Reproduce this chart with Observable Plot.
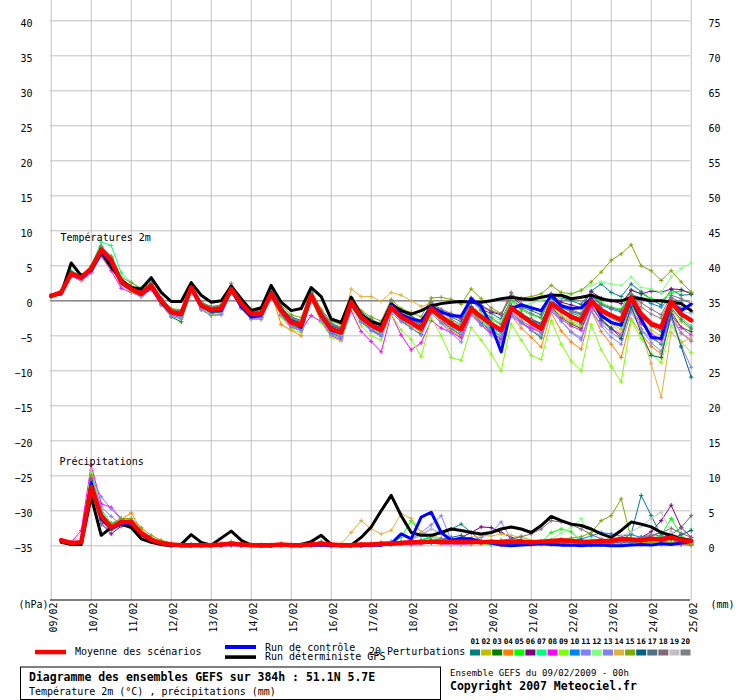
<!DOCTYPE html>
<html>
<head>
<meta charset="utf-8">
<script src="https://cdn.jsdelivr.net/npm/d3@7"></script>
<script src="https://cdn.jsdelivr.net/npm/@observablehq/plot@0.6"></script>
<style>
  html, body { margin: 0; padding: 0; background: #fff; }
  #chart { width: 740px; height: 700px; position: relative; }
  #chart svg { display: block; }
</style>
</head>
<body>
<div id="chart"></div>
<script>
// ---------------- DATA ----------------
const dateLabels = ["09/02","10/02","11/02","12/02","13/02","14/02","15/02","16/02","17/02","18/02","19/02","20/02","21/02","22/02","23/02","24/02","25/02"];
const tempTicks = [40,35,30,25,20,15,10,5,0,-5,-10,-15,-20,-25,-30,-35];
const PRECIP_ZERO = -35;   // 0 mm on the right axis sits at -35 °C on the left axis
const STEP_H = 6;          // 6-hourly output, 0..384h

const pertNames = ["01","02","03","04","05","06","07","08","09","10","11","12","13","14","15","16","17","18","19","20"];
const pertColors = ["#008080","#c0c000","#008000","#ff8000","#00ff00","#800080","#00ff80","#ff00ff","#80ff00","#0080ff","#8080ff","#80ff80","#8080f0","#e0b040","#80a800","#006080","#507080","#806878","#c0c0c0","#808080"];

// 2 m temperature (°C), 65 values (0h .. 384h)
const meanT = [0.7,1.2,3.9,3.3, 4.6,7.3,5.8,2.7, 1.7,1.0,2.2,0.0, -1.6,-1.9,1.9,-0.7, -1.3,-1.1,1.7,-0.4, -1.9,-1.9,1.0,-1.4, -3.1,-3.5,0.8,-2.1, -4.0,-4.5,-0.2,-2.3, -3.5,-4.2,-0.9,-2.3, -3.1,-4.0,-1.1,-2.3, -3.3,-4.1,-1.1,-2.3, -3.3,-4.2,-1.0,-2.1, -3.1,-4.0,-0.4,-1.4, -2.3,-2.8,0.0,-1.4, -2.1,-2.7,0.5,-1.9, -3.3,-3.8,-0.1,-1.9, -2.8];
const detT = [0.7,1.0,5.4,3.6, 4.3,6.9,4.8,3.0, 1.9,1.7,3.3,1.2, -0.1,-0.1,2.6,0.8, -0.2,0.0,2.1,0.3, -1.4,-1.0,2.2,-0.2, -1.4,-1.1,1.9,0.6, -2.6,-3.1,0.5,-2.0, -3.0,-3.4,-0.5,-1.4, -1.9,-1.4,-0.7,-0.4, -0.2,-0.1,-0.2,-0.2, 0.0,0.3,0.5,0.3, 0.2,0.5,0.8,0.8, 0.3,0.5,0.8,0.3, 0.0,0.0,0.5,0.3, 0.0,0.0,-0.2,-0.4, -1.4];
const ctrlT = [0.7,1.1,4.0,3.3, 4.4,7.0,5.5,2.6, 1.6,0.9,2.0,-0.2, -1.7,-2.0,2.0,-0.6, -1.5,-1.4,1.6,-0.8, -2.3,-2.1,1.2,-1.2, -2.9,-3.8,0.6,-2.0, -4.2,-4.6,-0.4,-2.5, -3.5,-4.0,-0.6,-2.0, -2.6,-2.9,-0.9,-1.6, -2.1,-2.2,0.3,-0.8, -3.5,-7.3,-1.1,-0.6, -1.0,-1.4,0.8,-0.7, -1.1,-1.0,0.3,-2.1, -3.1,-3.5,0.3,-2.6, -5.2,-5.4,-0.2,-1.4, -0.5];

const p01T = [0.8,1.3,4.0,3.5, 4.8,7.6,6.2,3.0, 2.0,1.3,2.5,0.3, -1.2,-1.5,2.3,-0.2, -0.9,-0.6,2.1,0.0, -1.3,-1.2,1.5,-0.9, -2.3,-2.8,1.3,-1.4, -3.2,-3.8,0.3,-1.6, -2.6,-3.4,-0.2,-1.5, -2.2,-2.9,-0.3,-1.4, -2.3,-3.0,0.0,-1.2, -1.8,-2.6,0.2,-0.9, -1.4,-2.0,0.9,0.4, 0.0,-0.5,1.4,2.4, 1.2,0.6,2.4,1.3, 0.2,-0.6,1.6,0.8, 0.9];
const p02T = [0.6,1.2,3.8,3.2, 4.5,7.1,5.9,2.8, 1.8,1.2,2.1,-0.2, -1.8,-2.2,1.7,-1.0, -1.6,-1.4,1.5,-0.7, -2.2,-2.3,0.7,-1.8, -3.6,-4.0,0.5,-2.6, -4.6,-5.1,-0.4,-2.9, -4.1,-4.9,-1.3,-2.7, -3.6,-4.5,-1.5,-2.9, -4.0,-4.9,-1.6,-3.0, -4.2,-5.0,-1.4,-2.8, -3.8,-4.6,-1.0,-2.2, -3.1,-3.8,-0.6,-2.3, -3.2,-4.1,-0.8,-2.9, -4.2,-5.0,-1.2,-3.0, -4.1];
const p03T = [0.7,1.1,3.6,3.1, 4.4,7.0,5.5,2.4, 1.4,0.7,1.8,-0.5, -2.3,-3.0,1.6,-1.0, -1.8,-1.6,1.5,-0.8, -2.4,-2.4,0.8,-1.9, -3.5,-4.0,0.6,-2.5, -4.6,-5.2,-0.4,-2.9, -4.2,-4.9,-1.2,-2.8, -3.9,-4.8,-1.5,-2.9, -4.0,-4.9,-1.4,-3.1, -4.4,-5.5,-1.6,-3.0, -4.2,-5.3,-0.9,-2.4, -3.3,-4.0,-0.7,-2.8, -3.9,-4.9,-0.3,-3.1, -5.1,-6.2,-1.5,-3.8, -4.4];
const p04T = [0.7,1.2,4.1,3.4, 4.7,7.8,6.3,3.1, 1.9,1.1,2.3,0.1, -1.4,-1.7,2.0,-0.6, -1.2,-1.0,1.8,-0.5, -2.0,-2.2,1.1,-3.4, -4.2,-5.0,1.1,-2.6, -4.3,-4.9,0.1,-2.6, -3.9,-4.4,-0.6,-2.5, -3.4,-4.5,-1.2,-3.1, -4.3,-5.1,-1.5,-3.5, -4.7,-5.9,-2.1,-3.9, -5.2,-6.6,-1.7,-4.3, -5.9,-6.9,-1.4,-4.4, -6.2,-8.1,-2.6,-4.7, -6.5,-7.6,-1.8,-4.6, -5.8];
const p05T = [0.6,1.1,3.7,3.1, 4.3,7.0,5.5,2.4, 1.5,0.8,2.0,-0.3, -1.9,-2.3,1.7,-1.0, -1.7,-1.5,1.4,-0.8, -2.2,-2.1,0.8,-1.8, -3.4,-3.9,0.4,-2.5, -4.3,-4.9,-0.5,-2.7, -3.8,-4.5,-1.1,-2.5, -3.3,-4.3,-1.3,-2.4, -3.2,-3.9,-0.8,-2.0, -2.7,-3.4,-0.1,-1.3, -2.0,-2.5,0.5,-0.8, -1.6,-2.0,0.9,-0.3, -0.9,-1.2,1.6,1.0, 0.3,0.0,1.2,1.4, 1.2];
const p06T = [0.7,1.3,4.0,3.4, 4.7,7.5,6.0,2.9, 1.9,1.2,2.4,0.2, -1.4,-1.7,2.1,-0.4, -1.0,-0.8,1.9,-0.1, -1.6,-1.5,1.3,-1.1, -2.7,-3.1,1.1,-1.7, -3.5,-4.0,0.1,-1.8, -3.0,-3.7,-0.4,-1.7, -2.5,-3.3,-0.5,-1.6, -2.1,-2.6,0.4,-0.7, -1.6,-2.0,0.7,-0.6, -1.1,-1.5,1.0,-0.2, -0.6,-1.0,1.3,0.4, 0.0,-0.4,1.5,1.0, 1.4,1.2,1.7,1.6, 1.0];
const p07T = [0.8,1.4,4.3,3.7, 5.0,8.4,7.9,4.0, 2.6,1.8,2.6,0.4, -1.3,-1.6,2.1,-0.5, -1.2,-1.0,1.8,-0.4, -1.8,-1.8,1.1,-1.3, -3.0,-3.4,0.9,-2.0, -4.0,-4.6,-0.2,-2.4, -3.6,-4.3,-0.9,-2.4, -3.2,-4.1,-1.0,-2.5, -3.8,-4.6,-1.2,-2.7, -4.0,-5.0,-1.1,-2.4, -3.2,-3.9,-0.2,-1.6, -2.5,-3.0,0.3,-1.9, -2.9,-3.6,0.1,-2.2, -3.3,-4.1,-0.6,-2.4, -3.6];
const p08T = [0.6,1.0,3.5,2.9, 4.0,6.4,4.3,1.8, 1.2,0.6,1.6,-0.6, -2.0,-2.4,1.4,-1.2, -2.1,-1.9,1.2,-1.0, -2.5,-2.4,0.5,-2.1, -3.8,-4.2,-2.1,-3.0, -5.0,-5.6,-1.4,-4.4, -5.8,-7.3,-1.9,-4.9, -7.0,-6.0,-2.8,-3.9, -4.5,-5.3,-2.0,-3.4, -4.6,-5.4,-1.9,-3.2, -3.9,-4.5,-1.1,-2.6, -3.6,-4.2,-0.8,-2.9, -4.1,-4.8,-1.2,-3.3, -4.7,-5.6,-2.0,-3.8, -4.9];
const p09T = [0.6,1.1,3.7,3.0, 4.2,6.9,5.4,2.3, 1.3,0.7,1.8,-0.5, -2.2,-2.6,1.6,-1.3, -2.0,-1.8,1.4,-1.1, -2.6,-2.7,0.6,-2.3, -4.0,-4.6,0.2,-3.1, -5.2,-5.8,-1.0,-3.6, -5.0,-5.6,-1.9,-4.2, -5.5,-8.0,-2.4,-5.0, -8.1,-8.5,-3.8,-5.6, -7.6,-10.0,-3.3,-5.6, -7.8,-8.4,-2.8,-6.2, -8.6,-10.0,-3.4,-7.0, -9.4,-11.6,-2.8,-5.4, -7.5,-8.8,-3.5,-5.8, -7.4];
const p10T = [0.7,1.2,3.9,3.3, 4.6,7.2,5.7,2.6, 1.6,0.9,2.1,-0.1, -1.7,-2.1,1.8,-0.8, -1.5,-1.3,1.6,-0.6, -2.1,-2.1,0.8,-1.6, -3.3,-3.8,0.6,-2.3, -4.2,-4.8,-0.3,-2.5, -3.8,-4.5,-1.0,-2.3, -3.1,-4.0,-1.2,-2.5, -3.6,-4.5,-1.3,-2.6, -3.8,-4.6,-1.0,-2.0, -2.8,-3.4,0.2,-1.0, -1.5,-1.9,0.8,-0.6, -1.2,-1.6,0.9,0.4, -0.4,-0.9,0.5,-0.3, -1.6];
const p11T = [0.7,1.2,3.8,3.2, 4.5,7.4,5.0,2.2, 1.4,0.8,1.9,-0.5, -2.2,-2.6,1.5,-1.3, -2.1,-2.0,1.2,-1.1, -2.6,-2.6,0.5,-2.0, -3.7,-4.3,0.2,-2.8, -4.8,-5.4,-0.7,-3.1, -4.3,-5.1,-1.7,-3.0, -3.9,-4.9,-1.8,-3.2, -4.6,-5.9,-2.0,-3.4, -4.9,-6.0,-2.2,-3.2, -4.2,-5.0,-1.5,-2.9, -4.4,-5.3,-1.3,-3.6, -5.2,-6.2,-1.6,-4.1, -5.4,-6.1,-2.4,-4.6, -5.6];
const p12T = [0.7,1.2,4.0,3.4, 4.6,7.5,6.0,2.8, 1.8,1.1,2.2,0.0, -1.6,-2.0,1.9,-0.7, -1.4,-1.1,1.7,-0.5, -2.0,-2.0,1.0,-1.5, -3.3,-3.8,0.7,-2.2, -4.1,-4.6,-0.3,-2.4, -3.6,-4.3,-0.8,-2.2, -3.0,-3.8,-0.9,-2.1, -3.0,-3.8,-0.8,-1.6, -2.2,-2.9,0.2,-0.7, -0.4,0.1,0.8,0.5, 1.0,1.5,2.2,2.7, 2.4,2.2,3.4,1.9, 1.7,1.2,3.4,4.6, 5.4];
const p13T = [0.6,1.1,3.8,3.2, 4.4,7.1,5.3,2.5, 1.5,0.8,1.9,-0.3, -1.9,-2.4,1.6,-1.0, -1.6,-1.5,1.4,-0.9, -2.3,-2.4,0.6,-1.9, -3.6,-4.1,0.4,-2.6, -4.5,-5.1,-0.6,-2.8, -4.0,-4.8,-1.4,-2.8, -3.5,-4.3,-1.4,-2.7, -3.9,-4.9,-1.6,-3.2, -4.1,-5.2,-1.7,-2.9, -3.6,-4.6,-1.2,-2.9, -4.5,-5.6,-1.5,-3.3, -4.5,-5.5,-1.0,-4.0, -6.0,-7.2,-2.5,-6.4, -9.5];
const p14T = [0.7,1.2,3.9,3.4, 4.6,7.3,5.8,2.7, 1.7,1.0,2.2,0.0, -1.6,-1.9,1.9,-0.7, -1.3,-1.1,1.7,-0.5, -2.0,-2.0,1.1,-1.5, -3.0,-3.5,0.9,-2.1, -3.8,-4.4,1.7,0.6, 0.6,-0.1,1.2,0.8, 0.0,-0.8,-0.4,-1.9, -2.8,-3.6,-1.5,-2.6, -3.3,-4.2,-1.2,-2.3, -3.0,-3.7,-0.8,-2.1, -2.9,-3.5,-0.3,-2.4, -3.3,-4.7,-0.6,-4.4, -9.0,-13.8,-4.5,-6.0, -5.2];
const p15T = [0.8,1.3,4.1,3.6, 4.9,7.8,6.4,3.4, 2.6,1.7,2.6,0.4, -1.1,-1.3,2.2,-0.2, -0.8,-0.6,2.0,0.0, -1.1,-1.0,1.6,-0.6, -2.0,-2.4,1.5,-1.2, -2.9,-3.4,0.5,-1.4, -2.3,-2.9,0.2,-1.1, -1.7,-2.3,0.4,0.5, 0.2,-0.5,1.7,0.3, -1.0,-1.8,0.5,0.4, 0.6,1.0,2.2,1.2, 1.0,1.5,2.7,4.1, 5.8,6.7,8.0,5.0, 4.3,2.9,4.3,2.7, 1.2];
const p16T = [0.7,1.3,4.0,3.4, 4.7,7.4,5.9,2.9, 1.9,1.2,2.4,0.2, -1.4,-1.7,2.1,-0.5, -1.1,-0.9,1.9,-0.2, -1.6,-1.6,1.3,-1.2, -2.6,-3.2,1.1,-1.8, -3.6,-4.1,0.1,-2.0, -3.2,-3.9,-0.6,-1.9, -2.6,-3.5,-0.7,-2.0, -3.0,-3.8,-0.8,-2.2, -3.4,-4.3,-0.7,-1.8, -2.7,-3.3,0.2,-1.5, -2.5,-3.2,0.3,-2.6, -3.9,-5.4,-0.8,-4.6, -7.8,-8.1,-1.9,-6.6, -10.9];
const p17T = [0.7,1.2,3.9,3.3, 4.6,7.3,5.7,2.7, 1.7,1.0,2.2,-0.1, -1.7,-2.0,1.9,-0.7, -1.4,-1.2,1.7,-0.5, -2.0,-1.9,1.0,-1.4, -3.1,-3.6,0.8,-2.1, -4.0,-4.6,-0.2,-2.3, -3.5,-4.2,-0.9,-2.3, -3.1,-4.0,-1.1,-2.3, -3.3,-4.1,-1.0,-2.2, -3.1,-4.0,-0.7,-1.8, -2.6,-3.2,0.2,-1.2, -2.0,-2.6,0.4,-1.5, -2.5,-3.1,0.3,-2.3, -3.6,-4.4,-1.0,-2.7, -3.9];
const p18T = [0.7,1.2,4.0,3.3, 4.7,7.6,6.1,3.0, 2.0,1.3,2.5,0.2, -1.4,-1.6,2.1,-0.4, -1.0,-0.9,1.9,-0.2, -1.5,-1.5,1.3,-1.0, -2.5,-3.0,1.2,-1.6, -3.4,-3.9,0.2,-1.8, -2.9,-3.5,-0.3,-1.6, -2.4,-3.1,-0.3,-1.2, -1.8,-2.4,0.4,-0.7, -1.4,-1.9,1.2,-0.4, -1.0,-1.5,0.6,-0.6, -1.3,-1.8,0.8,-0.5, -1.0,-1.4,1.0,-0.3, -1.2,-2.0,0.8,0.3, -0.4];
const p19T = [0.7,1.2,3.9,3.3, 4.5,7.2,5.6,2.6, 1.6,0.9,2.1,-0.1, -1.7,-2.1,1.8,-0.8, -1.4,-1.2,1.6,-0.6, -2.0,-2.0,0.9,-1.6, -3.2,-3.7,0.7,-2.2, -4.1,-4.7,-0.3,-2.5, -3.7,-4.4,-1.1,-2.4, -3.3,-4.2,-1.2,-2.6, -3.5,-4.4,-1.3,-2.7, -3.5,-4.4,-1.1,-2.1, -2.9,-3.6,0.0,-1.4, -2.3,-2.9,0.3,-1.8, -2.6,-3.3,0.4,-1.9, -2.9,-3.6,-0.3,-1.5, -1.8];
const p20T = [0.8,1.3,4.1,3.5, 4.8,7.7,6.2,3.1, 2.1,1.4,2.6,0.3, -1.2,-1.5,2.3,-0.3, -0.9,-0.7,2.5,0.1, -1.4,-1.4,1.6,-0.9, -2.4,-2.9,1.3,-1.5, -3.4,-3.9,0.4,-1.7, -2.9,-3.6,0.0,-1.6, -2.5,-3.3,-0.1,-1.5, -2.6,-3.4,0.0,-1.4, -2.4,-3.3,0.3,-1.1, -1.8,-2.4,0.9,-0.6, -1.7,-2.3,0.9,-1.0, -1.9,-2.6,0.9,-0.9, -1.9,-2.5,0.4,-1.0, -1.4];

// 6-hourly precipitation (mm), 64 values (6h .. 384h)
const meanP = [0.8,0.4,0.5,8.4, 4.3,2.6,3.4,3.4, 1.8,0.9,0.4,0.2, 0.1,0.1,0.1,0.1, 0.2,0.3,0.2,0.1, 0.1,0.1,0.2,0.1, 0.1,0.2,0.3,0.2, 0.1,0.1,0.2,0.2, 0.3,0.3,0.4,0.5, 0.5,0.6,0.5,0.6, 0.6,0.6,0.5,0.6, 0.5,0.6,0.6,0.5, 0.6,0.7,0.8,0.7, 0.6,0.6,0.7,0.7, 1.0,0.9,0.8,1.0, 0.9,1.2,0.8,0.7];
const ctrlP = [0.8,0.4,0.5,9.0, 3.8,2.4,3.2,3.1, 1.6,0.8,0.3,0.1, 0.0,0.0,0.1,0.0, 0.1,0.2,0.1,0.0, 0.0,0.0,0.1,0.0, 0.0,0.1,0.1,0.0, 0.0,0.0,0.0,0.1, 0.1,0.3,1.7,1.0, 4.1,4.8,1.9,0.8, 1.0,1.0,0.6,0.4, 0.1,0.0,0.1,0.2, 0.3,0.2,0.1,0.1, 0.0,0.1,0.1,0.0, 0.0,0.1,0.2,0.1, 0.3,0.2,0.4,0.6];
const detP = [0.5,0.2,0.2,7.0, 1.5,2.6,3.1,2.6, 1.0,0.5,0.2,0.0, 0.2,1.6,0.5,0.1, 1.1,2.1,0.8,0.1, 0.0,0.0,0.1,0.2, 0.2,0.6,1.5,0.2, 0.0,0.1,1.2,2.7, 5.0,7.2,4.3,1.9, 1.5,1.5,1.9,2.4, 2.2,1.9,1.7,1.9, 2.4,2.7,2.4,1.9, 2.9,4.2,3.6,3.1, 2.9,2.4,1.7,1.2, 2.2,3.4,3.1,2.7, 1.9,1.5,1.0,0.8];

const p01P = [0.8,0.4,0.6,10.2, 5.0,2.8,3.4,3.3, 1.8,1.0,0.4,0.2, 0.1,0.2,0.1,0.0, 0.2,0.3,0.2,0.1, 0.1,0.1,0.3,0.1, 0.1,0.3,0.6,0.2, 0.1,0.0,0.1,0.2, 0.2,0.3,0.4,0.6, 0.8,1.2,1.9,2.4, 3.1,1.9,0.7,0.5, 0.4,0.5,0.6,0.4, 0.3,0.4,0.6,0.5, 0.3,0.4,0.5,0.6, 0.8,1.7,7.2,4.3, 1.5,0.8,0.6,0.4];
const p02P = [0.7,0.4,0.5,9.6, 4.2,2.5,3.6,3.8, 2.2,1.2,0.5,0.2, 0.1,0.1,0.2,0.1, 0.3,0.5,0.4,0.2, 0.2,0.1,0.2,0.1, 0.1,0.2,0.3,0.1, 0.0,0.1,0.2,0.3, 0.5,0.6,0.4,0.6, 0.7,0.5,0.4,0.3, 0.4,0.6,0.4,0.3, 0.5,0.4,0.3,0.5, 0.6,0.8,0.6,0.4, 0.3,0.5,0.7,0.6, 0.5,0.4,0.6,0.5, 0.4,0.3,0.2,0.1];
const p03P = [0.8,0.3,0.4,9.8, 3.6,2.9,3.0,2.9, 1.5,0.8,0.3,0.1, 0.0,0.1,0.1,0.0, 0.1,0.2,0.1,0.1, 0.0,0.1,0.1,0.0, 0.1,0.1,0.2,0.1, 0.0,0.1,0.1,0.2, 0.3,0.2,0.5,0.7, 0.6,0.8,0.5,0.6, 0.4,0.3,0.4,0.2, 0.1,0.2,0.3,0.2, 0.4,0.3,0.5,0.6, 0.4,0.3,0.2,0.3, 0.4,0.6,0.5,0.3, 0.5,0.7,0.4,0.3];
const p04P = [0.8,0.4,0.5,10.0, 4.4,2.9,3.8,4.7, 2.3,1.1,0.5,0.2, 0.1,0.1,0.2,0.1, 0.2,0.2,0.1,0.1, 0.1,0.1,0.2,0.1, 0.1,0.2,0.2,0.1, 0.1,0.1,0.2,0.3, 0.2,0.4,0.3,0.3, 0.4,0.6,0.5,0.4, 0.3,0.2,0.4,0.5, 0.4,0.3,0.2,0.3, 0.2,0.3,0.4,0.3, 0.2,0.3,0.2,0.2, 0.3,0.4,0.3,0.4, 0.6,0.3,0.2,0.2];
const p05P = [0.7,0.4,0.5,10.5, 4.8,3.0,3.5,3.3, 1.9,1.0,0.4,0.1, 0.1,0.1,0.1,0.0, 0.1,0.2,0.2,0.1, 0.1,0.0,0.1,0.1, 0.1,0.1,0.2,0.1, 0.0,0.1,0.1,0.1, 0.2,0.4,1.2,3.6, 1.9,0.8,0.5,0.3, 0.3,0.4,0.3,0.2, 0.3,0.2,0.4,0.5, 0.5,1.9,2.4,2.0, 0.6,0.4,0.3,0.5, 0.4,0.6,0.8,0.9, 1.5,3.9,1.5,0.6];
const p06P = [0.8,0.3,0.4,9.2, 3.2,1.7,2.8,2.9, 1.4,0.7,0.3,0.1, 0.0,0.1,0.1,0.0, 0.1,0.1,0.1,0.0, 0.0,0.1,0.1,0.0, 0.1,0.2,0.3,0.1, 0.0,0.0,0.1,0.2, 0.3,0.4,0.5,0.4, 0.5,0.6,0.8,1.0, 1.2,1.9,2.7,2.6, 1.9,1.2,0.8,0.6, 0.5,0.4,0.3,0.3, 0.4,0.5,0.4,0.6, 0.5,0.8,1.2,2.0, 3.6,5.8,2.6,1.2];
const p07P = [0.8,0.4,0.6,10.8, 5.2,3.2,3.6,3.0, 1.7,0.9,0.4,0.2, 0.1,0.1,0.1,0.1, 0.2,0.3,0.2,0.1, 0.1,0.1,0.2,0.1, 0.1,0.2,0.3,0.1, 0.0,0.1,0.1,0.2, 0.2,0.3,0.4,0.5, 0.9,1.3,0.8,0.6, 0.4,0.5,0.4,0.3, 0.3,0.4,0.5,0.4, 0.3,0.3,0.4,0.3, 0.4,0.5,0.4,0.3, 0.5,0.4,0.6,0.5, 0.4,0.6,0.5,0.3];
const p08P = [0.8,0.5,2.2,11.5, 6.0,5.5,3.9,3.2, 1.5,0.8,0.3,0.1, 0.0,0.1,0.1,0.0, 0.1,0.2,0.1,0.0, 0.1,0.1,0.2,0.1, 0.1,0.2,0.1,0.0, 0.0,0.0,0.1,0.1, 0.1,0.2,0.3,0.2, 0.3,0.4,0.3,0.2, 0.2,0.3,0.4,0.3, 0.2,0.3,0.4,0.3, 0.3,0.2,0.3,0.4, 0.2,0.1,0.2,0.3, 0.4,0.3,0.2,0.3, 0.2,0.3,0.2,0.1];
const p09P = [0.7,0.4,0.5,10.9, 4.6,2.7,3.2,3.1, 1.7,0.9,0.4,0.2, 0.1,0.1,0.2,0.1, 0.3,0.5,0.3,0.1, 0.1,0.1,0.2,0.1, 0.1,0.2,0.3,0.1, 0.1,0.1,0.2,0.3, 0.4,0.3,0.6,0.5, 0.4,0.5,0.4,0.3, 0.3,0.4,0.3,0.4, 0.3,0.2,0.3,0.4, 0.3,0.4,0.3,0.2, 0.3,0.4,0.5,0.4, 0.6,0.5,0.4,0.6, 1.0,0.8,1.2,0.9];
const p10P = [0.8,0.4,0.5,9.4, 4.0,3.1,3.4,3.6, 1.9,1.0,0.4,0.2, 0.1,0.1,0.1,0.0, 0.1,0.2,0.1,0.1, 0.0,0.1,0.1,0.1, 0.1,0.1,0.2,0.1, 0.0,0.1,0.1,0.2, 0.3,0.5,0.4,0.6, 0.7,0.6,0.8,1.0, 0.6,0.5,0.4,0.5, 0.6,0.4,0.3,0.5, 0.6,0.7,0.9,0.8, 1.0,1.4,1.9,1.7, 1.4,1.6,1.2,1.5, 1.9,1.0,0.5,0.3];
const p11P = [0.8,0.4,0.5,9.9, 7.0,5.3,3.8,3.0, 1.6,0.8,0.3,0.1, 0.0,0.1,0.1,0.0, 0.1,0.2,0.1,0.0, 0.1,0.0,0.1,0.0, 0.1,0.1,0.2,0.1, 0.0,0.1,0.1,0.2, 0.3,0.4,0.6,0.9, 1.9,3.0,4.3,0.8, 0.6,0.8,1.2,1.9, 3.4,1.0,0.5,0.4, 0.3,0.4,0.3,0.2, 0.3,0.4,0.3,0.4, 0.3,0.5,0.4,0.3, 0.4,0.6,0.5,0.4];
const p12P = [0.8,0.4,0.5,10.4, 4.9,3.1,3.3,3.4, 2.0,1.1,0.5,0.2, 0.1,0.1,0.1,0.1, 0.2,0.3,0.2,0.1, 0.1,0.1,0.2,0.1, 0.1,0.2,0.2,0.1, 0.0,0.1,0.2,0.2, 0.3,0.2,0.4,0.5, 0.6,0.5,0.4,0.5, 0.4,0.3,0.5,0.4, 0.5,0.6,1.5,0.8, 0.6,0.9,1.8,2.6, 3.9,1.0,0.6,0.4, 0.5,0.7,0.5,0.6, 0.8,0.6,1.4,2.4];
const p13P = [0.8,0.4,0.5,9.6, 5.6,4.2,3.0,2.8, 1.5,0.8,0.3,0.1, 0.0,0.1,0.1,0.0, 0.1,0.1,0.1,0.0, 0.1,0.1,0.1,0.0, 0.0,0.1,0.1,0.1, 0.1,0.1,0.2,0.3, 0.4,0.6,0.5,0.8, 1.6,2.4,1.8,1.0, 0.7,0.5,0.4,0.3, 0.3,0.4,0.3,0.2, 0.3,0.2,0.3,0.4, 0.3,0.4,0.3,0.2, 0.3,0.2,0.3,0.4, 0.5,0.4,0.3,0.2];
const p14P = [0.7,0.4,0.5,9.9, 4.5,3.0,3.5,3.2, 1.8,0.9,0.4,0.2, 0.1,0.1,0.1,0.1, 0.2,0.2,0.1,0.1, 0.1,0.1,0.2,0.1, 0.1,0.1,0.2,0.1, 0.3,1.9,3.6,2.4, 1.7,2.2,4.6,3.9, 1.9,1.5,1.1,0.8, 0.9,1.2,1.5,1.4, 1.7,1.5,1.2,0.8, 0.5,0.4,0.3,0.4, 0.3,0.4,0.5,0.3, 0.4,0.3,0.5,0.4, 0.3,0.4,0.5,0.3];
const p15P = [0.8,0.4,0.5,10.1, 4.6,3.2,3.9,3.9, 2.6,1.5,0.8,0.4, 0.2,0.1,0.2,0.1, 0.3,0.6,0.4,0.2, 0.1,0.1,0.3,0.2, 0.2,0.3,0.5,0.2, 0.1,0.1,0.1,0.2, 0.2,0.3,0.4,0.3, 0.4,0.5,0.6,0.5, 0.3,0.4,0.6,0.5, 0.4,0.3,0.4,0.6, 0.7,0.8,0.9,1.1, 1.3,1.9,3.6,4.3, 6.7,1.0,0.6,0.4, 0.5,0.4,0.3,0.2];
const p16P = [0.8,0.4,0.5,9.3, 3.9,2.7,3.1,3.2, 1.6,0.9,0.4,0.1, 0.0,0.1,0.1,0.0, 0.1,0.2,0.1,0.1, 0.0,0.1,0.1,0.0, 0.1,0.2,0.4,0.1, 0.0,0.1,0.1,0.2, 0.3,0.4,0.5,0.4, 0.6,0.7,0.9,1.2, 1.5,0.9,0.6,0.5, 0.4,0.5,0.6,0.5, 0.4,0.3,0.5,0.6, 0.8,0.6,0.5,0.4, 0.6,0.8,1.1,0.9, 0.7,1.0,1.6,2.2];
const p17P = [0.8,0.4,0.5,9.5, 4.1,2.6,3.3,3.5, 1.8,0.9,0.4,0.1, 0.0,0.1,0.1,0.0, 0.1,0.1,0.1,0.0, 0.1,0.1,0.1,0.0, 0.1,0.1,0.2,0.1, 0.0,0.1,0.1,0.1, 0.2,0.3,0.4,0.5, 0.6,0.5,0.7,0.6, 0.5,0.4,0.5,0.4, 0.3,0.4,0.3,0.4, 0.5,0.4,0.3,0.4, 0.3,0.2,0.3,0.4, 0.5,0.4,0.6,0.8, 1.2,1.6,2.6,4.3];
const p18P = [0.8,0.4,0.5,9.7, 4.3,2.8,3.4,3.3, 1.7,0.9,0.4,0.2, 0.1,0.1,0.1,0.0, 0.1,0.2,0.2,0.1, 0.1,0.1,0.2,0.1, 0.1,0.2,0.3,0.1, 0.0,0.1,0.1,0.2, 0.3,0.4,0.3,0.4, 0.5,0.6,0.8,0.7, 0.6,0.5,0.6,0.7, 0.8,1.0,1.3,1.7, 2.4,3.6,3.4,3.0, 2.4,1.6,1.0,0.6, 0.5,0.7,1.0,1.4, 1.9,2.5,1.8,1.2];
const p19P = [0.8,0.4,0.5,8.8, 3.5,2.6,3.1,2.9, 1.5,0.8,0.3,0.1, 0.0,0.1,0.1,0.0, 0.1,0.1,0.1,0.0, 0.0,0.1,0.1,0.0, 0.1,0.1,0.2,0.1, 0.0,0.1,0.1,0.2, 0.2,0.4,0.6,0.9, 1.4,2.4,1.7,0.9, 0.6,0.5,0.4,0.4, 0.3,0.4,0.5,0.4, 0.3,0.4,0.5,0.4, 0.5,0.6,0.8,1.0, 1.4,2.0,2.8,3.9, 4.8,2.0,1.0,0.6];
const p20P = [0.8,0.4,0.5,7.6, 3.0,2.2,2.9,3.0, 1.6,0.9,0.3,0.1, 0.0,0.1,0.1,0.0, 0.1,0.2,0.1,0.1, 0.1,0.0,0.1,0.1, 0.1,0.1,0.2,0.1, 0.0,0.1,0.1,0.1, 0.2,0.3,0.4,0.5, 0.6,0.8,1.0,0.9, 0.7,0.6,0.5,0.6, 0.4,0.5,0.4,0.5, 0.4,0.3,0.5,0.6, 0.5,0.4,0.6,0.5, 0.7,0.9,1.2,1.6, 1.4,1.1,0.9,0.7];

const pertT = [p01T,p02T,p03T,p04T,p05T,p06T,p07T,p08T,p09T,p10T,p11T,p12T,p13T,p14T,p15T,p16T,p17T,p18T,p19T,p20T];
const pertP = [p01P,p02P,p03P,p04P,p05P,p06P,p07P,p08P,p09P,p10P,p11P,p12P,p13P,p14P,p15P,p16P,p17P,p18P,p19P,p20P];
const panelLabels = ["Températures 2m", "Précipitations"];

// ---------------- TABLES ----------------
const tempRows = arr => arr.map((v, i) => ({h: i * STEP_H, v}));
const precipRows = arr => arr.map((v, i) => ({h: (i + 1) * STEP_H, v: v + PRECIP_ZERO}));
const dayHours = dateLabels.map((d, i) => i * 24);

const Y_MIN = -42.81, Y_MAX = 42.9;
const FONT = "'DejaVu Sans Mono', monospace";

const marks = [
  Plot.ruleX(dayHours, {stroke: "#c0c0c0", strokeWidth: 1}),
  Plot.ruleY(tempTicks, {stroke: "#c0c0c0", strokeWidth: 1}),
  Plot.ruleY([0], {stroke: "#8a8a8a", strokeWidth: 1.6}),
  Plot.ruleY([Y_MIN], {stroke: "#000", strokeWidth: 1.2, dy: -0.5})
];

pertT.forEach((arr, k) => {
  const rows = tempRows(arr);
  marks.push(Plot.line(rows, {x: "h", y: "v", stroke: pertColors[k], strokeWidth: 1}));
  marks.push(Plot.dot(rows, {x: "h", y: "v", symbol: "plus", r: 1.5, stroke: pertColors[k], strokeWidth: 1}));
});
pertP.forEach((arr, k) => {
  const rows = precipRows(arr);
  marks.push(Plot.line(rows, {x: "h", y: "v", stroke: pertColors[k], strokeWidth: 1}));
  marks.push(Plot.dot(rows, {x: "h", y: "v", symbol: "plus", r: 1.5, stroke: pertColors[k], strokeWidth: 1}));
});

marks.push(
  Plot.line(tempRows(detT), {x: "h", y: "v", stroke: "#000", strokeWidth: 3}),
  Plot.line(precipRows(detP), {x: "h", y: "v", stroke: "#000", strokeWidth: 3}),
  Plot.line(tempRows(ctrlT), {x: "h", y: "v", stroke: "#0000ff", strokeWidth: 3}),
  Plot.line(precipRows(ctrlP), {x: "h", y: "v", stroke: "#0000ff", strokeWidth: 3}),
  Plot.line(tempRows(meanT), {x: "h", y: "v", stroke: "#ff0000", strokeWidth: 4.5}),
  Plot.line(precipRows(meanP), {x: "h", y: "v", stroke: "#ff0000", strokeWidth: 4.5})
);

marks.push(
  Plot.axisY(tempTicks, {anchor: "left", tickSize: 0, tickPadding: 18, label: null, fontSize: 10, dy: 2.5}),
  Plot.axisY(tempTicks, {anchor: "right", tickSize: 0, tickPadding: 18, label: null, fontSize: 10, dy: 2.5, tickFormat: d => String(d - PRECIP_ZERO)}),
  Plot.text(dateLabels, {x: (d, i) => i * 24, text: d => d, frameAnchor: "bottom", rotate: -90, textAnchor: "end", dx: 6, dy: 2, fontSize: 10, fill: "#000"}),
  Plot.text(["(hPa)"], {frameAnchor: "bottom-left", textAnchor: "end", dx: -2, dy: 7, fontSize: 10, fill: "#000"}),
  Plot.text(["(mm)"], {frameAnchor: "bottom-right", textAnchor: "start", dx: 20, dy: 7, fontSize: 10, fill: "#000"}),
  Plot.text([panelLabels[0]], {frameAnchor: "top-left", textAnchor: "start", dx: 10, dy: 233, fontSize: 10, fill: "#000"}),
  Plot.text([panelLabels[1]], {frameAnchor: "top-left", textAnchor: "start", dx: 9, dy: 457, fontSize: 10, fill: "#000"})
);

const chart = Plot.plot({
  width: 740,
  height: 700,
  marginTop: 0,
  marginBottom: 100,
  marginLeft: 50,
  marginRight: 50,
  style: {fontFamily: FONT, fontSize: "10px", color: "#000", background: "#fff", overflow: "visible"},
  x: {type: "linear", domain: [0, 384], range: [50.7, 690.7], axis: null},
  y: {domain: [Y_MIN, Y_MAX], range: [600, 0], axis: null},
  marks
});
document.getElementById("chart").appendChild(chart);

// ---------------- LEGEND & FOOTER ----------------
const svg = d3.select(chart);
const lg = svg.append("g").attr("font-family", FONT).attr("fill", "#000").attr("text-anchor", "start");
const addText = (x, y, size, str, bold) => lg.append("text").attr("x", x).attr("y", y)
  .attr("font-size", size).attr("font-weight", bold ? "bold" : "normal").attr("fill", "#000").text(str);

lg.append("rect").attr("x", 35).attr("y", 649.8).attr("width", 31).attr("height", 4.5).attr("fill", "#ff0000");
addText(75, 655, 10, "Moyenne des scénarios");

lg.append("rect").attr("x", 225).attr("y", 645).attr("width", 31).attr("height", 4).attr("fill", "#0000ff");
addText(265, 650.5, 10, "Run de contrôle");
lg.append("rect").attr("x", 225).attr("y", 655.3).attr("width", 31).attr("height", 3.6).attr("fill", "#000");
addText(265, 660.3, 10, "Run déterministe GFS");

addText(369, 655, 10, "20 Perturbations");

pertColors.forEach((c, k) => {
  const x0 = 470 + k * 11.08;
  lg.append("rect").attr("x", x0).attr("y", 649.5).attr("width", 10).attr("height", 6).attr("fill", c);
  lg.append("text").attr("x", x0 + 5).attr("y", 644.3).attr("text-anchor", "middle").attr("fill", "#000")
    .attr("font-size", 7.6).attr("font-weight", "bold").text(pertNames[k]);
});

lg.append("rect").attr("x", 20.5).attr("y", 667).attr("width", 420).attr("height", 32.5)
  .attr("fill", "none").attr("stroke", "#000").attr("stroke-width", 1);
addText(29, 681, 11.5, "Diagramme des ensembles GEFS sur 384h : 51.1N 5.7E", true);
addText(29, 694.5, 10, "Température 2m (°C) , précipitations (mm)");

addText(450, 675.5, 9, "Ensemble GEFS du 09/02/2009 - 00h");
addText(450, 689.5, 11.5, "Copyright 2007 Meteociel.fr", true);
</script>
</body>
</html>
